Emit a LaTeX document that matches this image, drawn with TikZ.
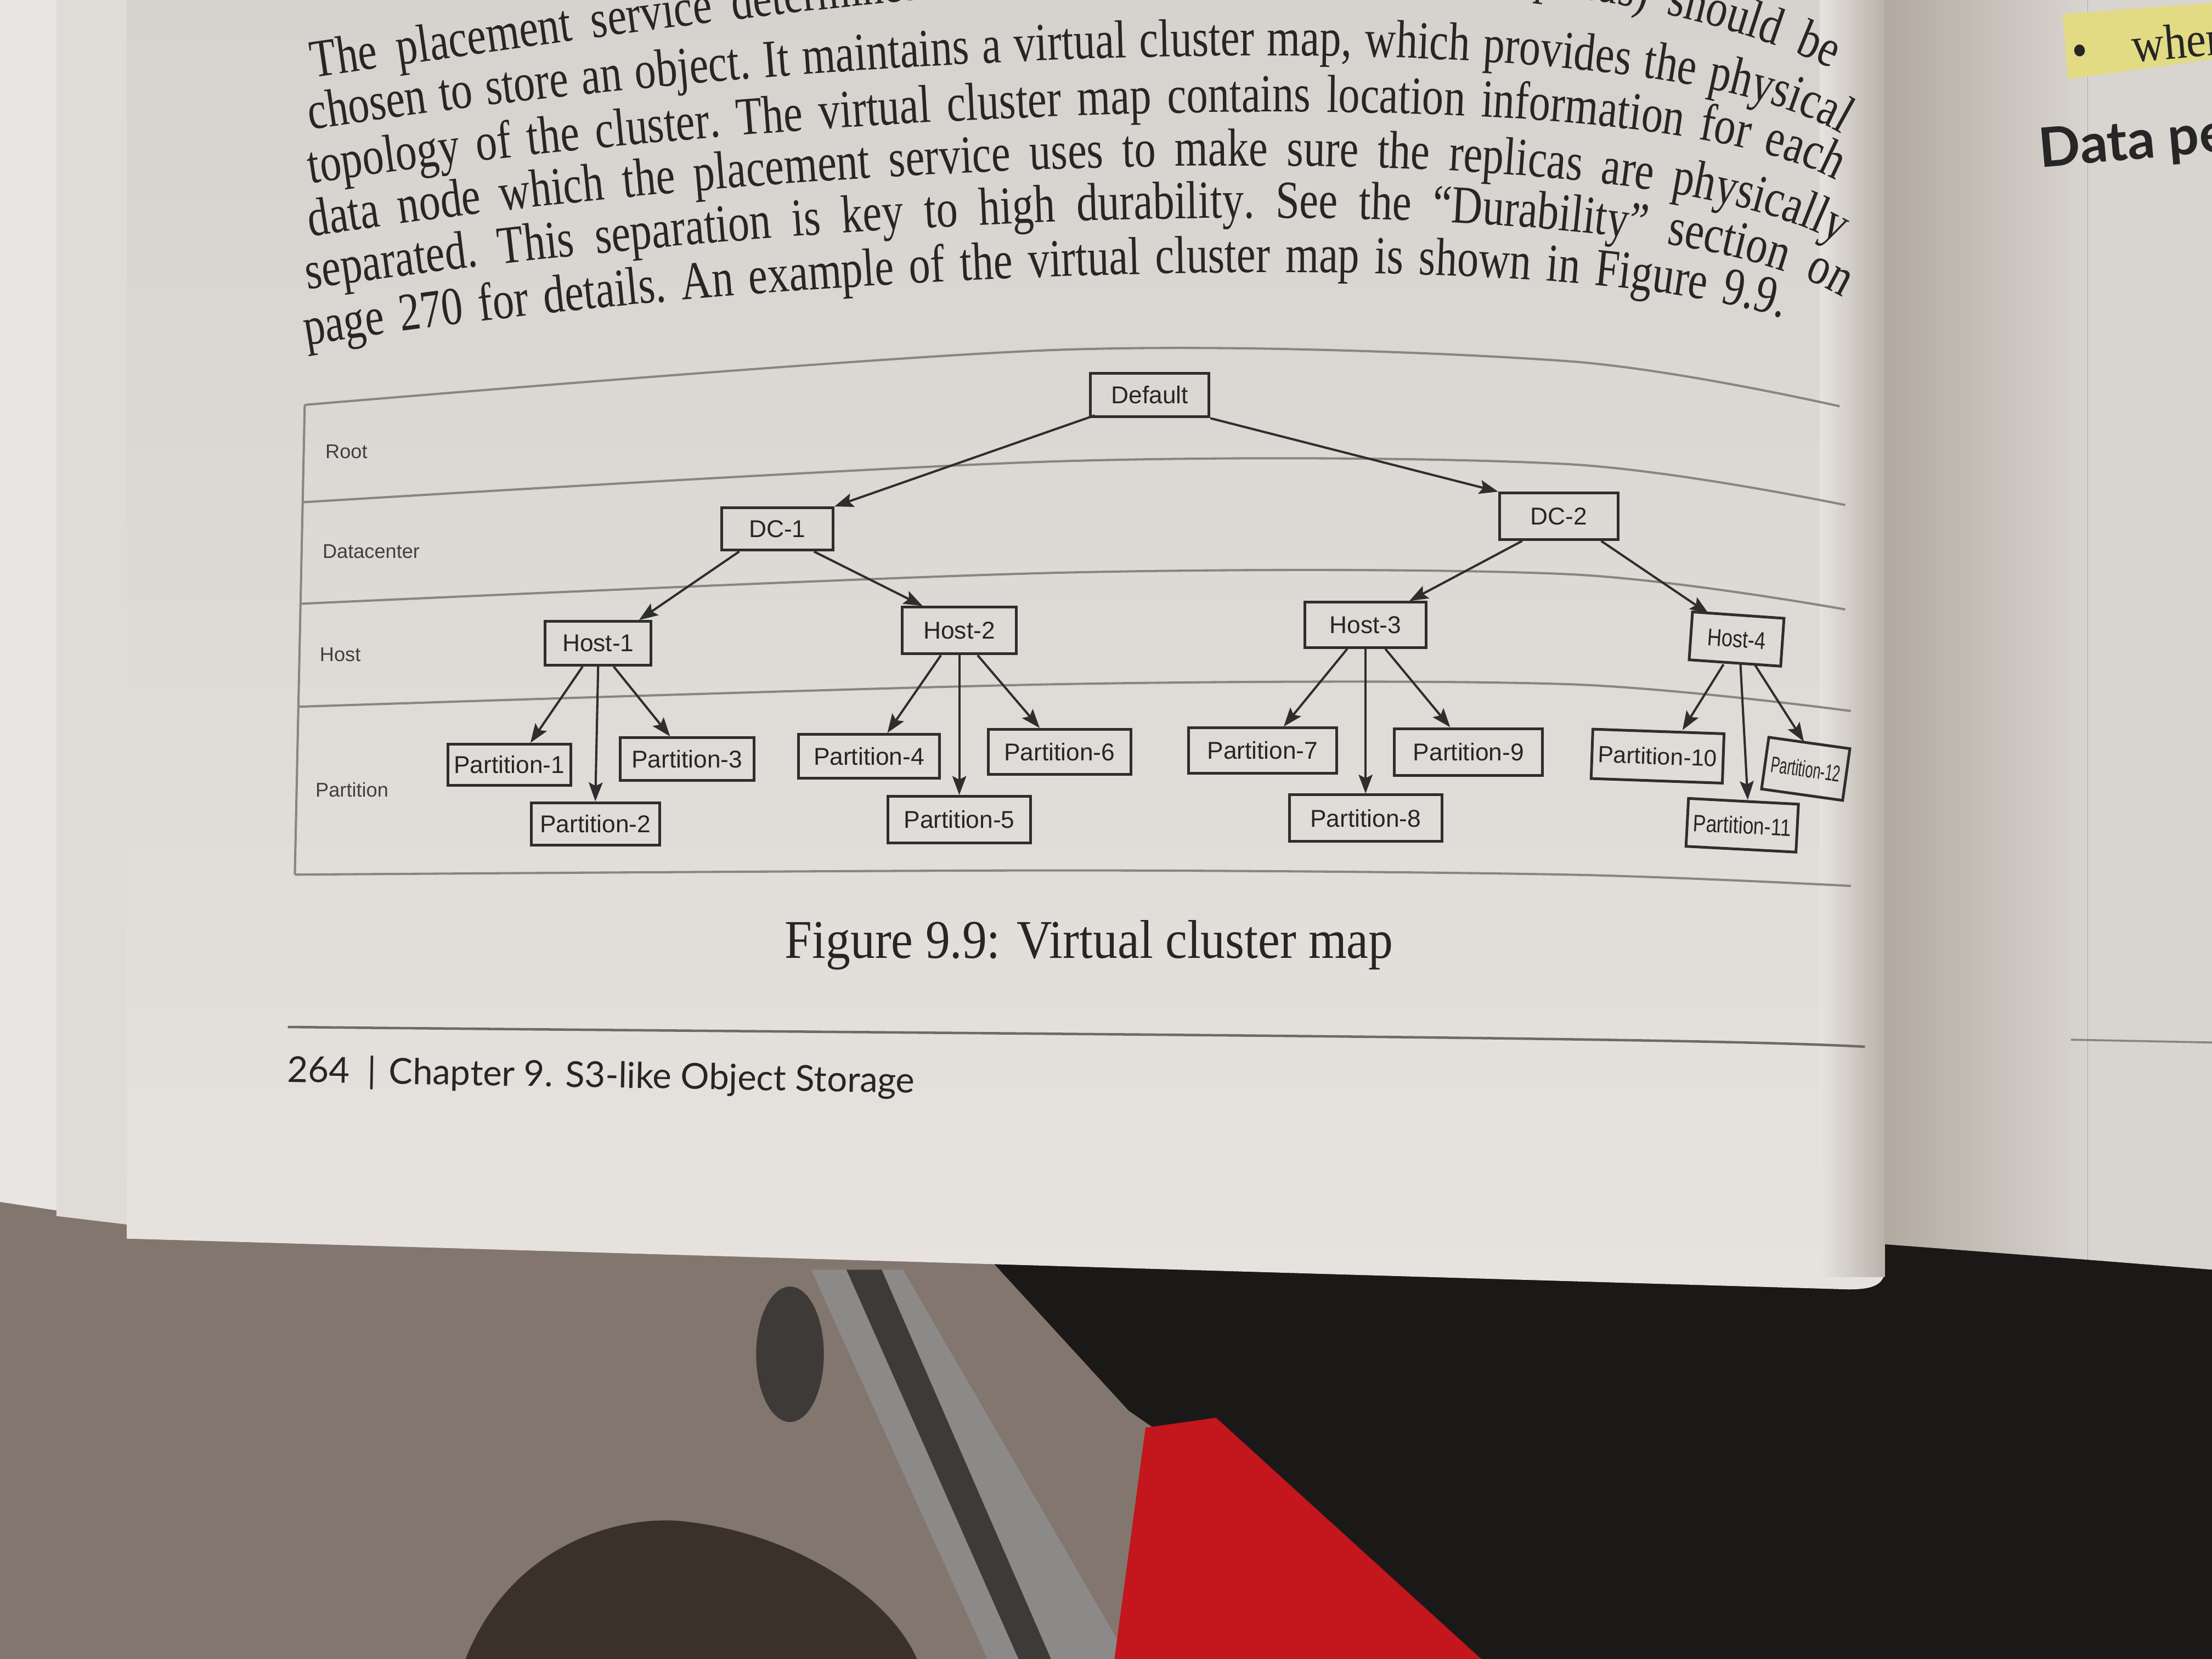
\documentclass[tikz,border=0pt]{standalone}
\usepackage{fontspec}
\setmainfont{Liberation Serif}
\newfontfamily\bodyfont[FakeStretch=0.8]{Liberation Serif}
\newfontfamily\capfont[FakeStretch=0.9]{Liberation Serif}
\newfontfamily\dfont{Liberation Sans}
\newfontfamily\dcond[FakeStretch=0.82]{Liberation Sans}
\newfontfamily\dcondd[FakeStretch=0.6]{Liberation Sans}
\newfontfamily\footfont{Lato}
\usetikzlibrary{arrows.meta,decorations.text}
\definecolor{inkc}{HTML}{262626}
\definecolor{boxc}{HTML}{2E2E2E}
\definecolor{lanec}{HTML}{8A857F}
\definecolor{labc}{HTML}{404040}
\definecolor{pagetop}{HTML}{D6D3CE}
\definecolor{pagebot}{HTML}{E6E3DF}
\definecolor{stackA}{HTML}{E9E7E3}
\definecolor{stackB}{HTML}{DFDCD7}
\definecolor{rpageL}{HTML}{B2AAA1}
\definecolor{rpageR}{HTML}{D8D4CF}
\definecolor{darkbg}{HTML}{1B1918}
\definecolor{carpet}{HTML}{83766E}
\definecolor{strapg}{HTML}{8C8A88}
\definecolor{strapd}{HTML}{3E3A38}
\definecolor{redc}{HTML}{C3161D}
\definecolor{blobc}{HTML}{3B312B}
\definecolor{hlc}{HTML}{E2DB84}
\tikzset{
  box/.style={draw=boxc, line width=0.55pt, inner sep=0pt, text=inkc,
    font=\dfont\fontsize{4.9}{5.5}\selectfont},
  lane/.style={draw=lanec, line width=0.45pt},
  lanelab/.style={anchor=west, inner sep=0pt, text=labc, font=\dfont\fontsize{4}{5}\selectfont},
  arr/.style={draw=boxc, line width=0.45pt, -{Stealth[length=3.8pt,width=2.8pt,inset=0.7pt]}},
  bodyline/.style={decorate, decoration={text along path, text align={fit to path stretching spaces},
    text={|\bodyfont\fontsize{10.8}{12}\selectfont\color{inkc}|#1}}}
}
\begin{document}
\begin{tikzpicture}[x=0.01cm,y=0.01cm]
\useasboundingbox (0,0) rectangle (1568,-1176);
\clip (0,0) rectangle (1568,-1176);
% ---------- scene below the book ----------
\fill[darkbg] (0,0) rectangle (1568,-1176);
\fill[carpet] (0,-840) -- (690,-880) -- (800,-1000) -- (900,-1069) -- (1050,-1176) -- (0,-1176) -- cycle;
\fill[strapg] (575,-900) -- (640,-900) -- (800,-1176) -- (700,-1176) -- cycle;
\fill[strapd] (600,-900) -- (625,-900) -- (745,-1176) -- (722,-1176) -- cycle;
\fill[strapd] (560,-960) ellipse [x radius=24, y radius=48];
\fill[redc] (812,-1012) -- (862,-1005) -- (1050,-1176) -- (790,-1176) -- cycle;
\fill[blobc] (330,-1176) .. controls (360,-1100) and (430,-1075) .. (480,-1078) .. controls (560,-1085) and (630,-1130) .. (650,-1176) -- cycle;
% ---------- book pages ----------
\fill[stackA] (0,0) -- (40,0) -- (40,-858) -- (0,-852) -- cycle;
\fill[stackB] (40,0) -- (90,0) -- (90,-868) -- (40,-862) -- cycle;
\shade[top color=pagetop, bottom color=pagebot] (90,0) -- (1336,0) -- (1336,-900) .. controls (1336,-912) and (1325,-914) .. (1310,-914) -- (90,-878) -- cycle;
\shade[left color=pagebot, right color=rpageL!85!pagebot] (1290,0) rectangle (1336,-905);
\shade[left color=rpageL, right color=rpageR] (1336,0) -- (1480,0) -- (1480,-893) -- (1336,-882) -- cycle;
\fill[rpageR] (1480,0) -- (1568,0) -- (1568,-900) -- (1480,-893) -- cycle;
% ---------- right page ----------
\fill[hlc] (1462,-10) -- (1568,-2) -- (1568,-42) -- (1466,-56) -- cycle;
\node[anchor=west, rotate=5, inner sep=0pt, text=inkc, font=\capfont\fontsize{10}{12}\selectfont] (bulletw) at (1468,-36) {•\hspace{0.9em}wher};
\node[anchor=west, rotate=5, inner sep=0pt, text=inkc, font=\footfont\bfseries\fontsize{11}{13}\selectfont] (datape) at (1445,-108) {Data pe};
\draw[draw=lanec, line width=0.4pt] (1468,-737) -- (1568,-739);
% ---------- body text ----------
\path[bodyline={The placement service determines which data nodes (primary or replicas) should be}]
  (222,-55) .. controls (600,0) and (1050,66) .. (1297,-48);
\path[bodyline={chosen to store an object. It maintains a virtual cluster map, which provides the physical}]
  (220,-92) .. controls (550,-40) and (1150,-5) .. (1304,-94);
\path[bodyline={topology of the cluster. The virtual cluster map contains location information for each}]
  (220,-130) .. controls (550,-80) and (1150,-48) .. (1300,-127);
\path[bodyline={data node which the placement service uses to make sure the replicas are physically}]
  (220,-168) .. controls (550,-115) and (1150,-86) .. (1302,-172);
\path[bodyline={separated. This separation is key to high durability. See the “Durability” section on}]
  (218,-205) .. controls (550,-155) and (1150,-120) .. (1305,-210);
\path[bodyline={page 270 for details. An example of the virtual cluster map is shown in Figure 9.9.}]
  (217,-245) .. controls (520,-195) and (1080,-168) .. (1262,-225);
% ---------- diagram frame and lanes ----------
\draw[lane] plot[smooth] coordinates {(216,-287) (750,-248) (1111,-256) (1304,-288)};
\draw[lane] plot[smooth] coordinates {(215,-356) (750,-327) (1111,-329) (1308,-358)};
\draw[lane] plot[smooth] coordinates {(213,-428) (750,-406) (1111,-407) (1308,-432)};
\draw[lane] plot[smooth] coordinates {(211,-501) (750,-485) (1111,-485) (1312,-504)};
\draw[lane] plot[smooth] coordinates {(209,-620) (750,-617) (1111,-620) (1312,-628)};
\draw[lane] (216,-287) -- (209,-620);
\node[lanelab] (lroot) at (230,-320) {Root};
\node[lanelab] (ldc) at (228,-391) {Datacenter};
\node[lanelab] (lhost) at (226,-464) {Host};
\node[lanelab] (lpart) at (223,-560) {Partition};
% ---------- nodes ----------
\node[box, minimum width=0.84cm, minimum height=0.31cm] (def) at (815,-280) {Default};
\node[box, minimum width=0.79cm, minimum height=0.30cm] (dc1) at (551,-375) {DC-1};
\node[box, minimum width=0.84cm, minimum height=0.33cm] (dc2) at (1105,-366) {DC-2};
\node[box, minimum width=0.75cm, minimum height=0.31cm] (h1) at (424,-456) {Host-1};
\node[box, minimum width=0.81cm, minimum height=0.33cm] (h2) at (680,-447) {Host-2};
\node[box, minimum width=0.86cm, minimum height=0.32cm] (h3) at (968,-443) {Host-3};
\node[box, minimum width=0.65cm, minimum height=0.34cm, rotate=-4, font=\dcond\fontsize{4.9}{5.5}\selectfont] (h4) at (1231,-453) {Host-4};
\node[box, minimum width=0.87cm, minimum height=0.29cm] (p1) at (361,-542) {Partition-1};
\node[box, minimum width=0.91cm, minimum height=0.30cm] (p2) at (422,-584) {Partition-2};
\node[box, minimum width=0.95cm, minimum height=0.30cm] (p3) at (487,-538) {Partition-3};
\node[box, minimum width=1.00cm, minimum height=0.31cm] (p4) at (616,-536) {Partition-4};
\node[box, minimum width=1.01cm, minimum height=0.33cm] (p5) at (680,-581) {Partition-5};
\node[box, minimum width=1.01cm, minimum height=0.32cm] (p6) at (751,-533) {Partition-6};
\node[box, minimum width=1.05cm, minimum height=0.32cm] (p7) at (895,-532) {Partition-7};
\node[box, minimum width=1.08cm, minimum height=0.33cm] (p8) at (968,-580) {Partition-8};
\node[box, minimum width=1.05cm, minimum height=0.33cm] (p9) at (1041,-533) {Partition-9};
\node[box, minimum width=0.93cm, minimum height=0.35cm, rotate=-2, font=\dfont\fontsize{4.7}{5.5}\selectfont] (p10) at (1175,-536) {Partition-10};
\node[box, minimum width=0.78cm, minimum height=0.34cm, rotate=-3, font=\dcond\fontsize{4.8}{5.5}\selectfont] (p11) at (1235,-585) {Partition-11};
\node[box, minimum width=0.58cm, minimum height=0.37cm, rotate=-8, font=\dcondd\fontsize{4.6}{5.5}\selectfont] (p12) at (1280,-545) {Partition-12};
% ---------- connectors ----------
\draw[arr] ([shift={(4,2)}]def.south west) -- (dc1.north east);
\draw[arr] (def.south east) -- (dc2.north west);
\draw[arr] ([shift={(-27,0)}]dc1.south) -- ([shift={(29,0)}]h1.north);
\draw[arr] ([shift={(26,0)}]dc1.south) -- ([shift={(-26,0)}]h2.north);
\draw[arr] ([shift={(-26,0)}]dc2.south) -- ([shift={(31,0)}]h3.north);
\draw[arr] ([shift={(30,0)}]dc2.south) -- ([shift={(-21,0)}]h4.north);
\draw[arr] ([shift={(-11,0)}]h1.south) -- ([shift={(15,0)}]p1.north);
\draw[arr] (h1.south) -- (p2.north);
\draw[arr] ([shift={(11,0)}]h1.south) -- ([shift={(-12,0)}]p3.north);
\draw[arr] ([shift={(-13,0)}]h2.south) -- ([shift={(13,0)}]p4.north);
\draw[arr] (h2.south) -- (p5.north);
\draw[arr] ([shift={(13,0)}]h2.south) -- ([shift={(-14,0)}]p6.north);
\draw[arr] ([shift={(-13,0)}]h3.south) -- ([shift={(15,0)}]p7.north);
\draw[arr] (h3.south) -- (p8.north);
\draw[arr] ([shift={(14,0)}]h3.south) -- ([shift={(-13,0)}]p9.north);
\draw[arr] ([shift={(-8,0)}]h4.south) -- ([shift={(17,0)}]p10.north);
\draw[arr] ([shift={(4,0)}]h4.south) -- ([shift={(3,0)}]p11.north);
\draw[arr] ([shift={(14,0)}]h4.south) -- ([shift={(-4,0)}]p12.north);
% ---------- caption and footer ----------
\node[text=inkc, font=\capfont\fontsize{11}{13}\selectfont] (cap) at (772,-670) {Figure 9.9: Virtual cluster map};
\draw[draw=lanec!80!black, line width=0.5pt] (204,-728) .. controls (700,-733) and (1200,-735) .. (1322,-742);
\node[anchor=base west, inner sep=0pt, rotate=-1, text=inkc, font=\footfont\fontsize{7.2}{8}\selectfont] (foot) at (203,-767) {264\hspace{0.5em}|\hspace{0.35em}Chapter 9. S3-like Object Storage};
\end{tikzpicture}
\end{document}
